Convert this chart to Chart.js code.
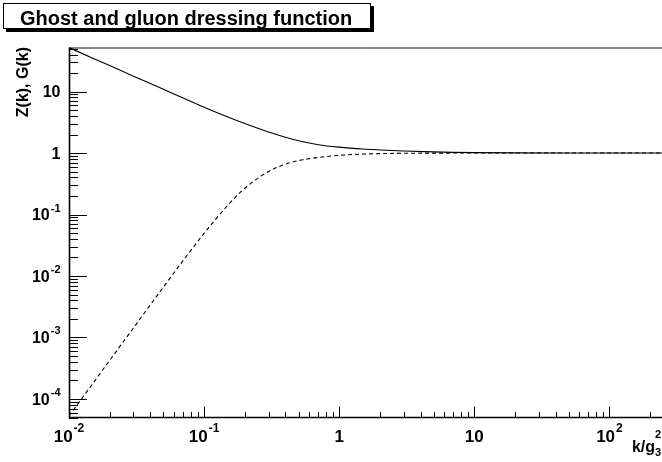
<!DOCTYPE html>
<html>
<head>
<meta charset="utf-8">
<script src="https://cdn.jsdelivr.net/npm/chart.js@4.4.1/dist/chart.umd.min.js"></script>
<style>
  html,body{margin:0;padding:0;background:#fff;}
  canvas{display:block;}
</style>
</head>
<body>
<canvas id="dress" width="662" height="462"></canvas>
<script>
// momentum grid k/g3^2 and the two dressing functions
const kValues = [0.01, 0.015, 0.02, 0.03, 0.05, 0.07, 0.1, 0.15, 0.2, 0.3, 0.4, 0.5, 0.7, 1, 1.5, 2, 3, 5, 7, 10, 20, 50, 100, 245];
const gluonZ  = [51.8, 34.9, 26.4, 17.8, 10.9, 7.83, 5.56, 3.85, 3.01, 2.19, 1.80, 1.58, 1.365, 1.245, 1.16, 1.122, 1.079, 1.042, 1.026, 1.016, 1.007, 1.002, 1.001, 1.0];
const ghostG  = [5.3e-5, 1.786e-4, 4.24e-4, 1.43e-3, 6.62e-3, 0.01786, 0.0494, 0.1419, 0.2673, 0.501, 0.659, 0.753, 0.847, 0.916, 0.962, 0.978, 0.990, 0.9965, 0.998, 0.999, 0.9998, 1.0, 1.0, 1.0];

// axis decorations
const xMajor = [0.01, 0.1, 1, 10, 100];
const xLabels = [['10','-2'], ['10','-1'], ['1',''], ['10',''], ['10','2']];
const yMajor = [1e-4, 1e-3, 1e-2, 0.1, 1, 10];
const yLabels = [['10','-4'], ['10','-3'], ['10','-2'], ['10','-1'], ['1',''], ['10','']];
const xRange = [0.01, 245];
const yRange = [5e-5, 52];

const FONT = '"Liberation Sans", Arial, Helvetica, sans-serif';

function powLabel(ctx, base, exp, x, y, align, size){
  const es = Math.round(size * 0.7);
  ctx.font = 'bold ' + size + 'px ' + FONT;
  const wb = ctx.measureText(base).width;
  ctx.font = 'bold ' + es + 'px ' + FONT;
  const we = exp ? ctx.measureText(exp).width + 1 : 0;
  const x0 = align === 'center' ? x - (wb + we) / 2 : x - wb - we;
  ctx.textAlign = 'left';
  ctx.textBaseline = 'alphabetic';
  ctx.font = 'bold ' + size + 'px ' + FONT;
  ctx.fillText(base, x0, y);
  if (exp){
    ctx.font = 'bold ' + es + 'px ' + FONT;
    ctx.fillText(exp, x0 + wb + 1, y - size * 0.55);
  }
}

function minorsOf(majors, lo, hi){
  const out = [];
  for (let d = majors[0] / 10; d <= majors[majors.length-1] * 10; d *= 10){
    for (let m = 2; m <= 9; m++){
      const v = d * m;
      if (v >= lo && v <= hi) out.push(v);
    }
  }
  return out;
}

const rootFrame = {
  id: 'rootFrame',
  afterDraw(chart){
    const ctx = chart.ctx, a = chart.chartArea;
    const xs = chart.scales.x, ys = chart.scales.y;
    ctx.save();
    ctx.fillStyle = '#000';

    // frame
    ctx.lineWidth = 1;
    ctx.strokeStyle = '#111';
    ctx.beginPath(); ctx.moveTo(a.left, a.top + 0.5); ctx.lineTo(662, a.top + 0.5); ctx.stroke();
    ctx.strokeStyle = '#000';
    ctx.lineWidth = 1.6;
    ctx.beginPath();
    ctx.moveTo(a.left + 0.5, a.top); ctx.lineTo(a.left + 0.5, a.bottom);
    ctx.lineTo(662, a.bottom);
    ctx.stroke();

    // y ticks point into the frame
    ctx.lineWidth = 1;
    yMajor.forEach(v => {
      const py = Math.round(ys.getPixelForValue(v)) + 0.5;
      ctx.beginPath(); ctx.moveTo(a.left, py); ctx.lineTo(a.left + 18, py); ctx.stroke();
    });
    minorsOf(yMajor, yRange[0], yRange[1]).forEach(v => {
      const py = Math.round(ys.getPixelForValue(v)) + 0.5;
      ctx.beginPath(); ctx.moveTo(a.left, py); ctx.lineTo(a.left + 9, py); ctx.stroke();
    });
    // x ticks
    xMajor.forEach(v => {
      const px = Math.round(xs.getPixelForValue(v)) + 0.5;
      ctx.beginPath(); ctx.moveTo(px, a.bottom); ctx.lineTo(px, a.bottom - 11); ctx.stroke();
    });
    minorsOf(xMajor, xRange[0], xRange[1]).forEach(v => {
      const px = Math.round(xs.getPixelForValue(v)) + 0.5;
      ctx.beginPath(); ctx.moveTo(px, a.bottom); ctx.lineTo(px, a.bottom - 5.5); ctx.stroke();
    });

    // tick labels
    xMajor.forEach((v, i) => {
      powLabel(ctx, xLabels[i][0], xLabels[i][1], xs.getPixelForValue(v), 441.5, 'center', 17);
    });
    yMajor.forEach((v, i) => {
      powLabel(ctx, yLabels[i][0], yLabels[i][1], 60.5, ys.getPixelForValue(v) + 5.8, 'right', 16);
    });

    // axis titles
    ctx.font = 'bold 16px ' + FONT;
    ctx.textAlign = 'right';
    ctx.fillText('k/g', 655, 451.5);
    ctx.font = 'bold 11px ' + FONT;
    ctx.textAlign = 'left';
    ctx.fillText('2', 655, 438);
    ctx.fillText('3', 655, 456);

    ctx.save();
    ctx.translate(28, 47);
    ctx.rotate(-Math.PI / 2);
    ctx.font = 'bold 16px ' + FONT;
    ctx.textAlign = 'right';
    ctx.fillText('Z(k), G(k)', 0, 0);
    ctx.restore();

    // title pave with shadow
    const tx0 = 3, ty0 = 3, tx1 = 371, ty1 = 29;
    ctx.fillStyle = '#000';
    ctx.fillRect(tx0 + 3, ty0 + 3, tx1 - tx0, ty1 - ty0);
    ctx.fillStyle = '#fff';
    ctx.fillRect(tx0, ty0, tx1 - tx0, ty1 - ty0);
    ctx.strokeStyle = '#000';
    ctx.lineWidth = 1;
    ctx.strokeRect(tx0 + 0.5, ty0 + 0.5, tx1 - tx0 - 1, ty1 - ty0 - 1);
    ctx.fillStyle = '#000';
    ctx.font = 'bold 20px ' + FONT;
    ctx.textAlign = 'left';
    ctx.fillText('Ghost and gluon dressing function', 20, 25);
    ctx.restore();
  }
};

const pts = ys => kValues.map((k, i) => ({x: k, y: ys[i]}));

new Chart(document.getElementById('dress'), {
  type: 'line',
  data: {
    datasets: [
      {label: 'Z(k)', data: pts(gluonZ), borderColor: '#000', borderWidth: 1.1, pointRadius: 0, cubicInterpolationMode: 'monotone'},
      {label: 'G(k)', data: pts(ghostG), borderColor: '#000', borderWidth: 1.1, borderDash: [4, 3], pointRadius: 0, cubicInterpolationMode: 'monotone'}
    ]
  },
  options: {
    responsive: false,
    animation: false,
    layout: {padding: {left: 69, top: 47.5, right: 0, bottom: 44.5}},
    plugins: {legend: {display: false}, tooltip: {enabled: false}},
    scales: {
      x: {type: 'logarithmic', min: xRange[0], max: xRange[1], display: false},
      y: {type: 'logarithmic', min: yRange[0], max: yRange[1], display: false}
    }
  },
  plugins: [rootFrame]
});
</script>
</body>
</html>
